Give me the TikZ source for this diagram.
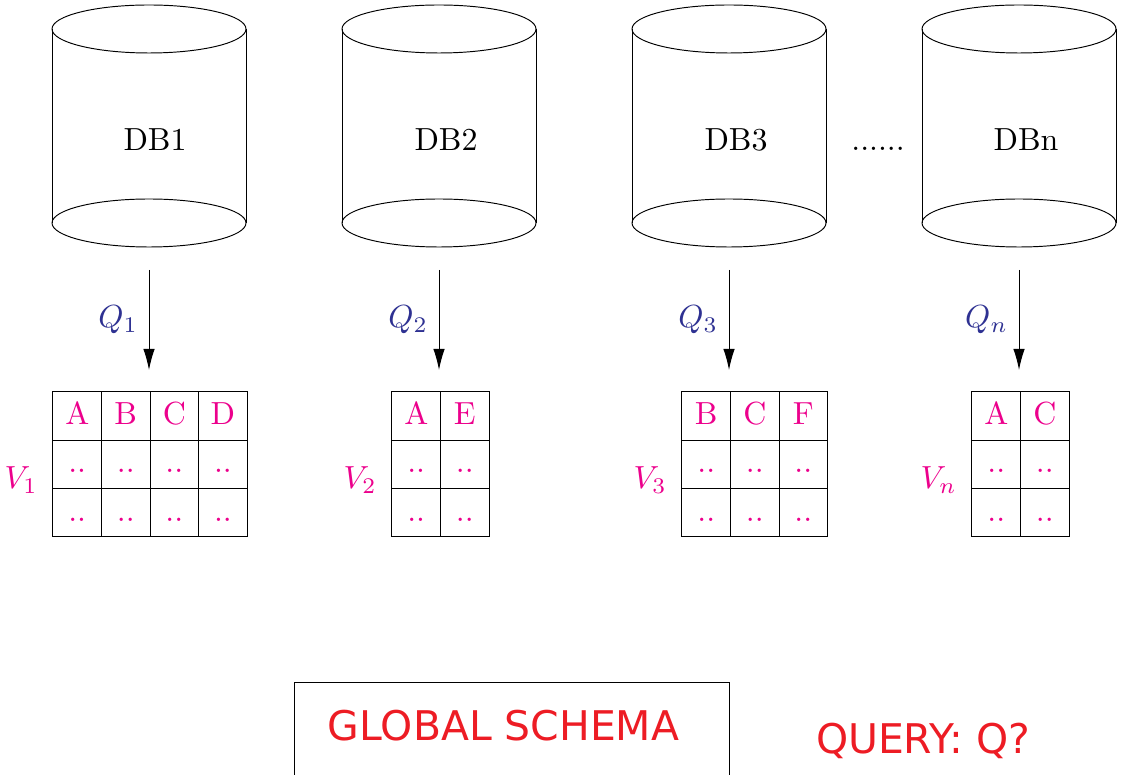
\documentclass[tikz,border=0pt]{standalone}
\usepackage{fontspec}
\usepackage{amsmath}
\newfontfamily\schemafont{DejaVu Sans}
\usetikzlibrary{positioning, matrix, arrows.meta}
\definecolor{qblue}{HTML}{2E3192}
\definecolor{vmagenta}{HTML}{EC008C}
\definecolor{schemared}{HTML}{ED1C24}

\begin{document}
\begin{tikzpicture}[x=0.011cm, y=-0.011cm, line width=0.3pt,
                cell/.style={draw, minimum width=15.2pt, minimum height=15.1pt,
                  inner sep=0pt, text height=1.5ex, text depth=.25ex, text=vmagenta},
                viewtable/.style={matrix of nodes, nodes={cell}, inner sep=0pt,
                  column sep=-0.3pt, row sep=-0.3pt, anchor=north west},
                query/.style={-{Latex[length=6.6pt,width=3.6pt]}},
                qlabel/.style={text=qblue, left=0pt},
                vlabel/.style={text=vmagenta, yshift=-5pt},
                schematext/.style={text=schemared, font=\schemafont\fontsize{12.8}{15}\selectfont},
              ]
  \useasboundingbox (0,0) rectangle (1121,775);
  \clip (0,0) rectangle (1121,775);

  % databases
  \draw (149,29) ellipse (97 and 24);
  \draw (149,223) ellipse (97 and 24);
  \draw (52,29) -- (52,223) (246,29) -- (246,223);
  \node (db1) at (155,140) {DB1};

  \draw (439,29) ellipse (97 and 24);
  \draw (439,223) ellipse (97 and 24);
  \draw (342,29) -- (342,223) (536,29) -- (536,223);
  \node (db2) at (446,140) {DB2};

  \draw (729,29) ellipse (97 and 24);
  \draw (729,223) ellipse (97 and 24);
  \draw (632,29) -- (632,223) (826,29) -- (826,223);
  \node (db3) at (736,140) {DB3};

  \draw (1019,29) ellipse (97 and 24);
  \draw (1019,223) ellipse (97 and 24);
  \draw (922,29) -- (922,223) (1116,29) -- (1116,223);
  \node (dbn) at (1026,140) {DBn};

  \node [anchor=base] (dots) at (878,151) {......};

  % queries
  \coordinate (q1s) at (149,270);
  \coordinate (q1e) at (149,370);
  \coordinate (q2s) at (439,270);
  \coordinate (q2e) at (439,370);
  \coordinate (q3s) at (729,270);
  \coordinate (q3e) at (729,370);
  \coordinate (qns) at (1019,270);
  \coordinate (qne) at (1019,370);
  \draw [query] (q1s) -- node [qlabel] (q1) {$Q_1$} (q1e);
  \draw [query] (q2s) -- node [qlabel] (q2) {$Q_2$} (q2e);
  \draw [query] (q3s) -- node [qlabel] (q3) {$Q_3$} (q3e);
  \draw [query] (qns) -- node [qlabel] (qn) {$Q_n$} (qne);

  % views
  \matrix (tab1) [viewtable] at (52,391) {
    A & B & C & D \\
    .. & .. & .. & .. \\
    .. & .. & .. & .. \\
  };
  \matrix (tab2) [viewtable] at (391,391) {
    A & E \\
    .. & .. \\
    .. & .. \\
  };
  \matrix (tab3) [viewtable] at (681,391) {
    B & C & F \\
    .. & .. & .. \\
    .. & .. & .. \\
  };
  \matrix (tabn) [viewtable] at (971,391) {
    A & C \\
    .. & .. \\
    .. & .. \\
  };
  \node [vlabel, left=1pt of tab1] (v1) {$V_1$};
  \node [vlabel, left=1pt of tab2] (v2) {$V_2$};
  \node [vlabel, left=1pt of tab3] (v3) {$V_3$};
  \node [vlabel, left=1pt of tabn] (vn) {$V_n$};

  % global schema
  \draw (294,682) rectangle (729,800);
  \node [schematext] (schema) at (503.5,725.5) {GLOBAL SCHEMA};
  \node [schematext] (query) at (923,741) {QUERY: Q?};
\end{tikzpicture}
\end{document}
